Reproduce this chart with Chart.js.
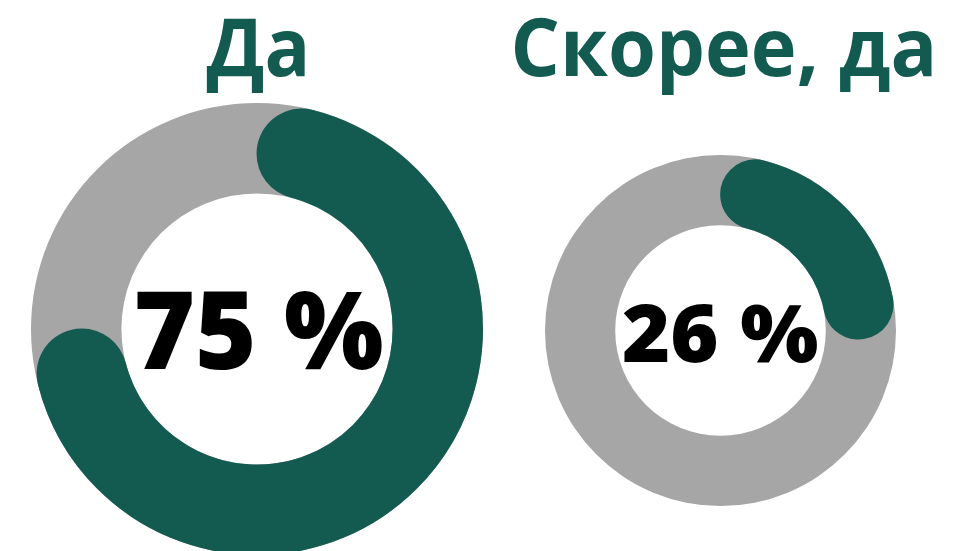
<!DOCTYPE html>
<html><head><meta charset="utf-8">
<script src="https://cdn.jsdelivr.net/npm/chart.js@4/dist/chart.umd.min.js"></script>
<style>
html,body{margin:0;padding:0;background:#fff;width:961px;height:551px;overflow:hidden;}
.c{position:absolute;}
.t{position:absolute;white-space:nowrap;font-family:"Open Sans",sans-serif;line-height:1;transform-origin:center center;}
.title{color:#135B50;font-weight:700;}
.pct{color:#000;font-weight:800;}
</style></head>
<body>
<script>
const categories = ["Да", "Скорее, да"];
const values = [75, 26];
const valueLabels = ["75 %", "26 %"];
const totals = [100, 100];

const green = "#135B50";
const gray = "#A6A6A6";
// layout: centre and radius of each ring, and text placement
const layout = [
  {cx:257, cy:329, r:226, tx:258, ty:76, ts:81, tw:104, px:258, py:331.5, ps:108, pw:250},
  {cx:720.5, cy:330, r:175.5, tx:724, ty:76, ts:81, tw:427, px:720, py:333.5, ps:80, pw:196}
];

function addCanvas(L){
  const size = Math.round(L.r*2);
  const cv = document.createElement('canvas');
  cv.className='c';
  cv.width=size; cv.height=size;
  cv.style.width=size+'px'; cv.style.height=size+'px';
  cv.style.left=(L.cx-size/2)+'px'; cv.style.top=(L.cy-size/2)+'px';
  document.body.appendChild(cv);
  return cv;
}
const common = {responsive:false, animation:false, events:[], cutout:'60%',
  plugins:{legend:{display:false}, tooltip:{enabled:false}}, layout:{padding:0}};

const BASE = 0.888; // baseline position in em for Open Sans at line-height 1
function addText(txt, cls, cx, y, size, targetW, isTitle){
  const d=document.createElement('div');
  d.className='t '+cls; d.textContent=txt; d.style.fontSize=size+'px';
  document.body.appendChild(d);
  const w=d.offsetWidth;
  const s=targetW/w;
  let top;
  if(isTitle){ top = y - BASE*size; }            // y is baseline
  else { top = y - (BASE*size - 0.357*size); }   // y is middle of cap height
  d.style.left=(cx-w/2)+'px'; d.style.top=top+'px';
  d.style.transform='scaleX('+s+')';
}

categories.forEach((cat,i)=>{
  const L=layout[i];
  new Chart(addCanvas(L), {type:'doughnut', data:{labels:[cat], datasets:[{data:[totals[i]], backgroundColor:[gray], borderWidth:0}]}, options:common});
  new Chart(addCanvas(L), {type:'doughnut', data:{labels:[cat,''], datasets:[{data:[values[i], totals[i]-values[i]],
    backgroundColor:[green,'rgba(0,0,0,0)'], borderWidth:0,
    borderRadius:(ctx)=>ctx.dataIndex===0?200:0}]}, options:common});
  addText(cat,'title',L.tx,L.ty,L.ts,L.tw,true);
  addText(valueLabels[i],'pct',L.px,L.py,L.ps,L.pw,false);
});
</script>
</body></html>
